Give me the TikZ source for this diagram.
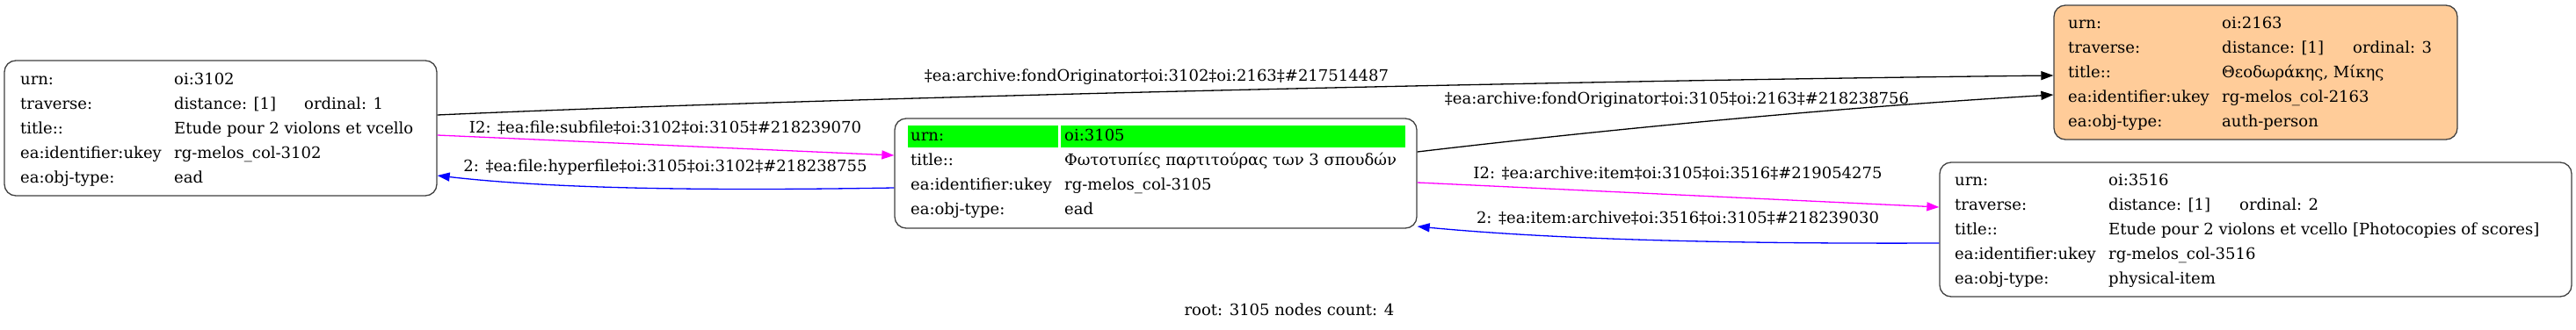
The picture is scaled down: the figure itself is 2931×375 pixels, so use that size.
\documentclass[tikz,border=0pt]{standalone}
\usepackage{fontspec}
\setmainfont{DejaVu Serif}
\usetikzlibrary{arrows.meta}
\definecolor{peach}{HTML}{FFCC99}
\definecolor{hlgreen}{HTML}{00FF00}
\definecolor{edgemag}{HTML}{FF00FF}
\definecolor{edgeblue}{HTML}{0000FF}
\tikzset{
  box/.style={draw=black!75, line width=1.3pt, rounded corners=13pt, inner sep=0pt},
  txt/.style={anchor=base west, inner sep=0pt, font=\fontsize{18}{22}\selectfont},
  elabel/.style={anchor=base, inner sep=0pt, font=\fontsize{18}{22}\selectfont},
  conn/.style={line width=1.3pt, -{Triangle[length=14pt,width=10pt]}},
}
\begin{document}
\begin{tikzpicture}[x=1pt,y=-1pt]
\useasboundingbox (0,0) rectangle (2931,375);
% boxes
\node[box, fill=white, minimum width=492pt, minimum height=154pt] (n3102) at (251,146) {};
\node[box, fill=white, minimum width=594pt, minimum height=125pt] (n3105) at (1315,197.5) {};
\node[box, fill=peach, minimum width=459pt, minimum height=153pt] (n2163) at (2566.5,82.5) {};
\node[box, fill=white, minimum width=719pt, minimum height=153pt] (n3516) at (2566.5,261.5) {};
% green header of 3105
\fill[hlgreen] (1033,143) rectangle (1204,168);
\fill[hlgreen] (1207,143) rectangle (1599,168);
% node 3102 rows
\node[txt] (a1) at (23,96) {urn:};
\node[txt] (a2) at (198,96) {oi:3102};
\node[txt] (a3) at (23,124) {traverse:};
\node[txt] (a4) at (198,124) {distance: [1]};
\node[txt] (a5) at (346,124) {ordinal: 1};
\node[txt] (a6) at (23,152) {title::};
\node[txt] (a7) at (198,152) {Etude pour 2 violons et vcello};
\node[txt] (a8) at (23,180) {ea:identifier:ukey};
\node[txt] (a9) at (198,180) {rg-melos\_col-3102};
\node[txt] (a10) at (23,208) {ea:obj-type:};
\node[txt] (a11) at (198,208) {ead};
% node 3105 rows
\node[txt] (b1) at (1036,160) {urn:};
\node[txt] (b2) at (1211,160) {oi:3105};
\node[txt] (b3) at (1036,188) {title::};
\node[txt] (b4) at (1211,188) {Φωτοτυπίες παρτιτούρας των 3 σπουδών};
\node[txt] (b5) at (1036,216) {ea:identifier:ukey};
\node[txt] (b6) at (1211,216) {rg-melos\_col-3105};
\node[txt] (b7) at (1036,244) {ea:obj-type:};
\node[txt] (b8) at (1211,244) {ead};
% node 2163 rows
\node[txt] (c1) at (2353,32) {urn:};
\node[txt] (c2) at (2528,32) {oi:2163};
\node[txt] (c3) at (2353,60) {traverse:};
\node[txt] (c4) at (2528,60) {distance: [1]};
\node[txt] (c5) at (2677,60) {ordinal: 3};
\node[txt] (c6) at (2353,88) {title::};
\node[txt] (c7) at (2528,88) {Θεοδωράκης, Μίκης};
\node[txt] (c8) at (2353,116) {ea:identifier:ukey};
\node[txt] (c9) at (2528,116) {rg-melos\_col-2163};
\node[txt] (c10) at (2353,144) {ea:obj-type:};
\node[txt] (c11) at (2528,144) {auth-person};
% node 3516 rows
\node[txt] (d1) at (2224,211) {urn:};
\node[txt] (d2) at (2399,211) {oi:3516};
\node[txt] (d3) at (2224,239) {traverse:};
\node[txt] (d4) at (2399,239) {distance: [1]};
\node[txt] (d5) at (2548,239) {ordinal: 2};
\node[txt] (d6) at (2224,267) {title::};
\node[txt] (d7) at (2399,267) {Etude pour 2 violons et vcello [Photocopies of scores]};
\node[txt] (d8) at (2224,295) {ea:identifier:ukey};
\node[txt] (d9) at (2399,295) {rg-melos\_col-3516};
\node[txt] (d10) at (2224,323) {ea:obj-type:};
\node[txt] (d11) at (2399,323) {physical-item};
% connectors
\draw[conn, black] (n3102.east |- 0,131) .. controls (900,113) and (1700,93) .. (n2163.west |- 0,86);
\draw[conn, edgemag] (n3102.east |- 0,154) -- (n3105.west |- 0,177);
\draw[conn, edgeblue] (n3105.west |- 0,214) .. controls (780,218) and (620,214) .. (n3102.east |- 0,200);
\draw[conn, black] (n3105.east |- 0,173) .. controls (1850,145) and (2100,122) .. (n2163.west |- 0,108);
\draw[conn, edgemag] (n3105.east |- 0,208) -- (n3516.west |- 0,236);
\draw[conn, edgeblue] (n3516.west |- 0,277) .. controls (1950,278) and (1760,272) .. (n3105.east |- 0,258);
% edge labels
\node[elabel] (l1) at (1316,92) {‡ea:archive:fondOriginator‡oi:3102‡oi:2163‡\#217514487};
\node[elabel] (l2) at (1908,118) {‡ea:archive:fondOriginator‡oi:3105‡oi:2163‡\#218238756};
\node[elabel] (l3) at (757,151) {I2: ‡ea:file:subfile‡oi:3102‡oi:3105‡\#218239070};
\node[elabel] (l4) at (757,195) {2: ‡ea:file:hyperfile‡oi:3105‡oi:3102‡\#218238755};
\node[elabel] (l5) at (1909,203) {I2: ‡ea:archive:item‡oi:3105‡oi:3516‡\#219054275};
\node[elabel] (l6) at (1909,254) {2: ‡ea:item:archive‡oi:3516‡oi:3105‡\#218239030};
% graph label
\node[elabel] (root) at (1467,359) {root: 3105 nodes count: 4};
\end{tikzpicture}
\end{document}
